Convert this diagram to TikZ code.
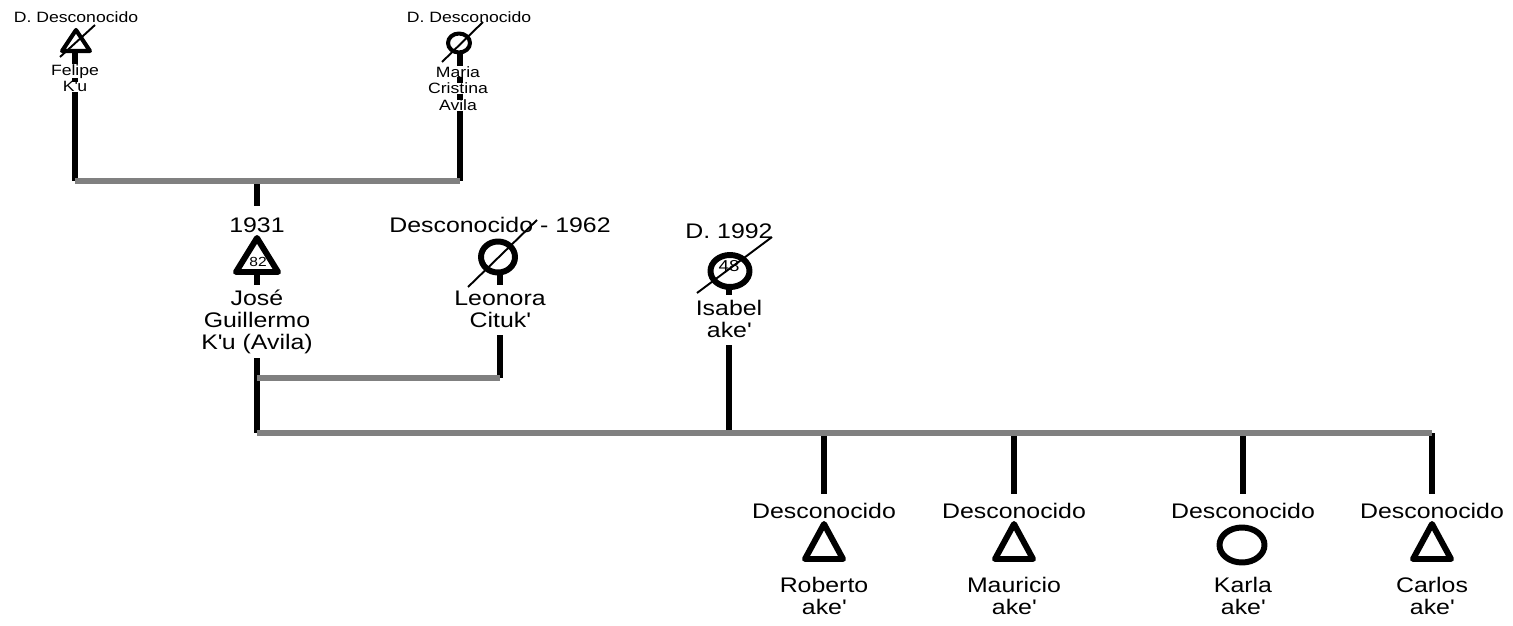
\documentclass[tikz,border=0pt]{standalone}
\usepackage{fontspec}
\setmainfont{Liberation Sans}[FakeStretch=1.18]
\definecolor{linegray}{RGB}{128,128,128}
\newcommand\wbx[1]{{\setlength{\fboxsep}{0pt}\colorbox{white}{#1}}}
\newcommand\bigtop{\rule{0pt}{11.5pt}}
\newcommand\bigbot{\rule[-4.5pt]{0pt}{4.5pt}}
\newcommand\smtop{\rule{0pt}{8pt}}
\newcommand\ap{\textquotesingle}
\begin{document}
\begin{tikzpicture}[x=0.02cm,y=-0.02cm,
  vline/.style={line width=3.1pt, black},
  gline/.style={line width=3.1pt, linegray},
  shp/.style={line width=3.4pt, line join=round},
  shpsm/.style={line width=2.3pt, line join=round},
  slash/.style={line width=1.1pt},
  bigtxt/.style={font=\fontsize{12}{12.7}\selectfont, align=center, inner sep=0pt},
  namebox/.style={bigtxt, fill=white, anchor=north},
  smtxt/.style={font=\fontsize{8.5}{9.5}\selectfont, align=center, inner sep=0pt},
  agetxt/.style={inner sep=0pt},
]
\useasboundingbox (0,0) rectangle (1513,625);

% junction points
\coordinate (pL) at (75,181);
\coordinate (pR) at (460,181);
\coordinate (pM) at (257,181);
\coordinate (jL) at (257,378);
\coordinate (jR) at (500,378);
\coordinate (mL) at (257,433);
\coordinate (mI) at (729,433);
\coordinate (c1) at (824,433);
\coordinate (c2) at (1014,433);
\coordinate (c3) at (1243,433);
\coordinate (c4) at (1432,433);

% symbol anchor points
\coordinate (felB) at (75,51);
\coordinate (marB) at (460,53);
\coordinate (josB) at (257,272);
\coordinate (leoB) at (500,272);
\coordinate (isaB) at (729,287);

% year / status labels
\node[smtxt, anchor=base] (felD) at (76,23) {D. Desconocido};
\node[smtxt, anchor=base] (marD) at (469,23) {D. Desconocido};
\node[bigtxt, anchor=base] (josY) at (257,232) {1931};
\node[bigtxt, anchor=base] (leoY) at (500,232) {Desconocido - 1962};
\node[bigtxt, anchor=base] (isaY) at (729,238) {D. 1992};
\node[bigtxt, anchor=base] (k1Y) at (824,518) {Desconocido};
\node[bigtxt, anchor=base] (k2Y) at (1014,518) {Desconocido};
\node[bigtxt, anchor=base] (k3Y) at (1243,518) {Desconocido};
\node[bigtxt, anchor=base] (k4Y) at (1432,518) {Desconocido};

% vertical connectors (behind names)
\draw[vline] (felB) -- (pL);
\draw[vline] (marB) -- (pR);
\draw[vline, shorten >=6pt] (pM) -- (josY.north);
\draw[vline] (josB) -- (mL);
\draw[vline] (leoB) -- (jR);
\draw[vline] (isaB) -- (mI);
\draw[vline, shorten >=4.5pt] (c1) -- (k1Y.north);
\draw[vline, shorten >=4.5pt] (c2) -- (k2Y.north);
\draw[vline, shorten >=4.5pt] (c3) -- (k3Y.north);
\draw[vline, shorten >=4.5pt] (c4) -- (k4Y.north);

% horizontal couple / sibling lines
\draw[gline] (pL) -- (pR);
\draw[gline] (jL) -- (jR);
\draw[gline] (mL) -- (c4);

% symbols
\draw[shpsm] (76,30) -- (90,51) -- (62,51) -- cycle;
\draw[shpsm] (459,43) ellipse [x radius=11, y radius=9.5];
\draw[shp] (257,238) -- (278,272) -- (236,272) -- cycle;
\node[agetxt, font=\fontsize{7.5}{8}\selectfont] (josA) at (258,262) {82};
\draw[shp] (498,257) ellipse [x radius=17, y radius=15.5];
\draw[shp] (730,271) ellipse [x radius=19.5, y radius=16];
\node[agetxt, font=\fontsize{9}{10}\selectfont] (isaA) at (729,266) {48};
\draw[shp] (824,524) -- (843,559) -- (805,559) -- cycle;
\draw[shp] (1014,524) -- (1033,559) -- (995,559) -- cycle;
\draw[shp] (1242,545) ellipse [x radius=22.5, y radius=17.5];
\draw[shp] (1432,524) -- (1451,559) -- (1413,559) -- cycle;

% names
\node[smtxt, anchor=north] (felN) at (75,60.9) {\smtop\wbx{Felipe}\\\wbx{K\ap u}};
\node[smtxt, anchor=north] (marN) at (458,62.9) {\smtop\wbx{Maria}\\\wbx{Cristina}\\\wbx{Avila}};
\node[namebox] (josN) at (257,284.7) {\bigtop José\\Guillermo\\K\ap u (Avila)\bigbot};
\node[namebox] (leoN) at (500,284.7) {\bigtop Leonora\\Cituk\ap\bigbot};
\node[namebox] (isaN) at (729,294.7) {\bigtop Isabel\\ake\ap\bigbot};
\node[namebox] (k1N) at (824,571.7) {\bigtop Roberto\\ake\ap};
\node[namebox] (k2N) at (1014,571.7) {\bigtop Mauricio\\ake\ap};
\node[namebox] (k3N) at (1243,571.7) {\bigtop Karla\\ake\ap};
\node[namebox] (k4N) at (1432,571.7) {\bigtop Carlos\\ake\ap};

% deceased slashes
\draw[slash] (60,57) -- (95,25);
\draw[slash] (442,62) -- (483,22);
\draw[slash] (468,287) -- (537,220);
\draw[slash] (697,293) -- (772,237);
\end{tikzpicture}
\end{document}
